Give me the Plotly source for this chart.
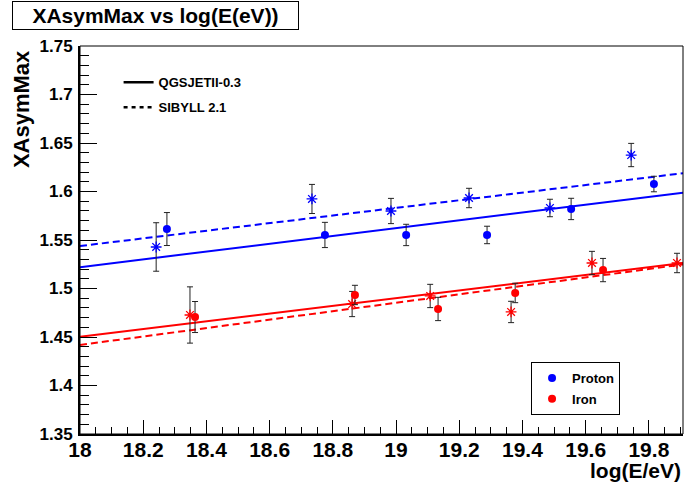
import plotly.graph_objects as go

# ---------------- data ----------------
# Proton, QGSJETII-0.3 (filled circles)
p_qgs_x = [18.275, 18.775, 19.032, 19.288, 19.554, 19.816]
p_qgs_y = [1.5613, 1.5552, 1.5552, 1.5552, 1.5820, 1.6077]
p_qgs_e = [0.017, 0.013, 0.011, 0.009, 0.011, 0.008]
# Proton, SIBYLL 2.1 (asterisks)
p_sib_x = [18.241, 18.734, 18.984, 19.231, 19.487, 19.744]
p_sib_y = [1.5428, 1.5923, 1.5799, 1.5933, 1.5830, 1.6376]
p_sib_e = [0.025, 0.015, 0.013, 0.010, 0.009, 0.012]
# Iron, QGSJETII-0.3 (filled circles)
fe_qgs_x = [18.364, 18.870, 19.133, 19.377, 19.655]
fe_qgs_y = [1.4706, 1.4933, 1.4789, 1.4954, 1.5190]
fe_qgs_e = [0.016, 0.010, 0.012, 0.010, 0.012]
# Iron, SIBYLL 2.1 (asterisks)
fe_sib_x = [18.348, 18.861, 19.108, 19.364, 19.620, 19.889]
fe_sib_y = [1.4727, 1.4840, 1.4923, 1.4758, 1.5263, 1.5263]
fe_sib_e = [0.029, 0.013, 0.012, 0.011, 0.012, 0.010]

# linear fits (values at the ends of the x range)
fit_x = [18.0, 19.908]
p_qgs_fit = [1.5220, 1.5988]
p_sib_fit = [1.5438, 1.6188]
fe_qgs_fit = [1.4503, 1.5263]
fe_sib_fit = [1.4418, 1.5248]

x_tick_vals = [18.0, 18.2, 18.4, 18.6, 18.8, 19.0, 19.2, 19.4, 19.6, 19.8]
x_tick_text = ["18", "18.2", "18.4", "18.6", "18.8", "19", "19.2", "19.4", "19.6", "19.8"]
y_tick_vals = [1.35, 1.40, 1.45, 1.50, 1.55, 1.60, 1.65, 1.70, 1.75]
y_tick_text = ["1.35", "1.4", "1.45", "1.5", "1.55", "1.6", "1.65", "1.7", "1.75"]

BLUE = "#0000ff"
RED = "#ff0000"
FONT = "Liberation Sans"

fig = go.Figure()

dash_plot = "7px,4px"
# fit lines
for yv, col, dash in [(p_qgs_fit, BLUE, "solid"), (p_sib_fit, BLUE, dash_plot),
                      (fe_qgs_fit, RED, "solid"), (fe_sib_fit, RED, dash_plot)]:
    fig.add_trace(go.Scatter(x=fit_x, y=yv, mode="lines", showlegend=False,
                             line=dict(color=col, width=2, dash=dash), hoverinfo="skip"))

err_style = dict(type="data", visible=True, color="#222222", thickness=1, width=3)

# asterisk points
for xs, ys, es, col in [(p_sib_x, p_sib_y, p_sib_e, BLUE), (fe_sib_x, fe_sib_y, fe_sib_e, RED)]:
    fig.add_trace(go.Scatter(x=xs, y=ys, mode="markers", showlegend=False,
                             error_y=dict(array=es, **err_style),
                             marker=dict(symbol="asterisk-open", size=9, color=col,
                                         line=dict(width=1.3, color=col))))

# circle points (also used for the legend)
fig.add_trace(go.Scatter(x=p_qgs_x, y=p_qgs_y, mode="markers", name="Proton",
                         legend="legend2", legendgroup="p",
                         error_y=dict(array=p_qgs_e, **err_style),
                         marker=dict(symbol="circle", size=8, color=BLUE)))
fig.add_trace(go.Scatter(x=fe_qgs_x, y=fe_qgs_y, mode="markers", name="Iron",
                         legend="legend2", legendgroup="fe",
                         error_y=dict(array=fe_qgs_e, **err_style),
                         marker=dict(symbol="circle", size=8, color=RED)))

# model legend entries
fig.add_trace(go.Scatter(x=[None], y=[None], mode="lines", name="QGSJETII-0.3",
                         legend="legend", legendgroup="q",
                         line=dict(color="black", width=2.5)))
fig.add_trace(go.Scatter(x=[None], y=[None], mode="lines", name="SIBYLL 2.1",
                         legend="legend", legendgroup="s",
                         line=dict(color="black", width=2.5, dash="4px,4px")))

axis_common = dict(showgrid=False, zeroline=False, showline=True, linecolor="black",
                   linewidth=2, ticks="inside", tickcolor="black", tickwidth=1,
                   mirror=False)

fig.update_xaxes(range=[18.0, 19.908], tickvals=x_tick_vals, ticktext=x_tick_text,
                 ticklen=14, tickfont=dict(family=FONT, size=21, color="black", weight="bold"),
                 minor=dict(ticks="inside", ticklen=7, dtick=0.05, tick0=18.0,
                            tickcolor="black", tickwidth=1, showgrid=False),
                 ticklabelstandoff=-4,
                 **axis_common)
fig.update_yaxes(range=[1.35, 1.75], tickvals=y_tick_vals, ticktext=y_tick_text,
                 ticklen=17, tickfont=dict(family=FONT, size=17, color="black", weight="bold"),
                 minor=dict(ticks="inside", ticklen=9, dtick=0.01, tick0=1.35,
                            tickcolor="black", tickwidth=1, showgrid=False),
                 ticklabelstandoff=2,
                 **axis_common)

fig.update_layout(
    width=686, height=483,
    margin=dict(l=80, r=3, t=46, b=49),
    plot_bgcolor="white", paper_bgcolor="white",
    font=dict(family=FONT, color="black"),
    legend=dict(x=0.064, y=0.945, xanchor="left", yanchor="top",
                bgcolor="rgba(0,0,0,0)", borderwidth=0, tracegroupgap=5,
                font=dict(family=FONT, size=13, color="black", weight="bold")),
    legend2=dict(x=0.748, y=0.1856, xanchor="left", yanchor="top",
                 bgcolor="white", bordercolor="black", borderwidth=1, tracegroupgap=1,
                 entrywidth=80, entrywidthmode="pixels",
                 font=dict(family=FONT, size=13, color="black", weight="bold")),
    shapes=[dict(type="rect", xref="paper", yref="paper", x0=0, x1=1, y0=0, y1=1,
                 line=dict(color="black", width=1), fillcolor="rgba(0,0,0,0)", layer="above")],
    annotations=[
        dict(text="XAsymMax vs log(E(eV))", xref="paper", yref="paper",
             x=-0.1128, y=1.116, xanchor="left", yanchor="top", showarrow=False,
             width=283, height=25, borderpad=1, bordercolor="black", borderwidth=1,
             bgcolor="white",
             font=dict(family=FONT, size=21, color="black", weight="bold")),
        dict(text="XAsymMax", xref="paper", yref="paper", x=-0.096, y=0.995,
             xanchor="center", yanchor="top", textangle=-90, showarrow=False,
             font=dict(family=FONT, size=22, color="black", weight="bold")),
        dict(text="log(E/eV)", xref="paper", yref="paper", x=1.0, y=-0.095,
             xanchor="right", yanchor="middle", showarrow=False,
             font=dict(family=FONT, size=21, color="black", weight="bold")),
    ],
)

fig.write_html("out.html")
